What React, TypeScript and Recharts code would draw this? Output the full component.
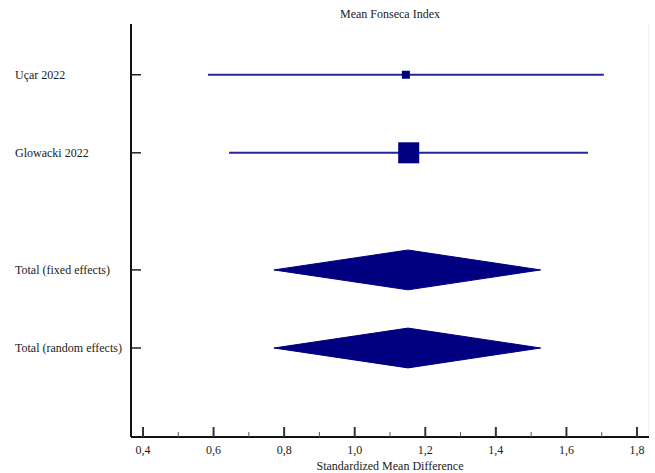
import { ComposedChart, Scatter, XAxis, YAxis, CartesianGrid, ReferenceLine } from 'recharts';

// studies
const STUDY_NAMES = ['Uçar 2022', 'Glowacki 2022'];
const STUDY_ROWS = [1, 3];
const STUDY_EST = [1.145, 1.153];
const STUDY_LO = [0.584, 0.644];
const STUDY_HI = [1.706, 1.661];
const STUDY_WEIGHT = [12.7, 87.3];

// pooled estimates
const POOLED_NAMES = ['Total (fixed effects)', 'Total (random effects)'];
const POOLED_ROWS = [6, 8];
const POOLED_EST = [1.151, 1.151];
const POOLED_LO = [0.771, 0.771];
const POOLED_HI = [1.527, 1.527];

const X_TICKS = [0.4, 0.5, 0.6, 0.7, 0.8, 0.9, 1.0, 1.1, 1.2, 1.3, 1.4, 1.5, 1.6, 1.7, 1.8];
const X_MAJOR = [0.4, 0.6, 0.8, 1.0, 1.2, 1.4, 1.6, 1.8];

const NAVY = '#000080';
const LINE = '#26269c';
const FONT = "'Liberation Serif', serif";
const FONT_SIZE = 12;
const DIAMOND_HALF = 0.51;
const X_DOMAIN = [0.366, 1.834];

const ROW_LABELS: Record<number, string> = {};
STUDY_ROWS.forEach((r, i) => (ROW_LABELS[r] = STUDY_NAMES[i]));
POOLED_ROWS.forEach((r, i) => (ROW_LABELS[r] = POOLED_NAMES[i]));

const majorSet = new Set(X_MAJOR.map(v => v.toFixed(1)));

const XTick = (props: any) => {
  const { x, y, payload } = props;
  const key = Number(payload.value).toFixed(1);
  const major = majorSet.has(key);
  return (
    <g>
      <line
        x1={x}
        x2={x}
        y1={y}
        y2={y - (major ? 10 : 5)}
        stroke={major ? '#333' : '#555'}
        strokeWidth={major ? 2 : 1}
      />
      {major && (
        <text x={x} y={y + 17} textAnchor="middle" fontFamily={FONT} fontSize={FONT_SIZE} fill="#222">
          {key.replace('.', ',')}
        </text>
      )}
    </g>
  );
};

const YTick = (props: any) => {
  const { x, y, payload } = props;
  return (
    <g>
      <line x1={x} x2={x + 10} y1={y} y2={y} stroke="#222" strokeWidth={1.5} />
      <text x={15} y={y + 4} textAnchor="start" fontFamily={FONT} fontSize={FONT_SIZE} fill="#222">
        {ROW_LABELS[payload.value]}
      </text>
    </g>
  );
};

const squareData = STUDY_NAMES.map((name, i) => ({
  name,
  x: STUDY_EST[i],
  y: STUDY_ROWS[i],
  w: STUDY_WEIGHT[i]
}));

const Square = (props: any) => {
  const { cx, cy, payload } = props;
  const s = 2.25 * Math.sqrt(payload.w);
  return <rect x={cx - s / 2} y={cy - s / 2} width={s} height={s} fill={NAVY} />;
};

const diamondData = (i: number) => [
  { x: POOLED_LO[i], y: POOLED_ROWS[i] },
  { x: POOLED_EST[i], y: POOLED_ROWS[i] - DIAMOND_HALF },
  { x: POOLED_HI[i], y: POOLED_ROWS[i] },
  { x: POOLED_EST[i], y: POOLED_ROWS[i] + DIAMOND_HALF },
  { x: POOLED_LO[i], y: POOLED_ROWS[i] }
];

export default function App() {
  return (
    <div style={{ position: 'absolute', left: 0, top: 0, width: 655, height: 473, background: '#fff' }}>
      <ComposedChart width={655} height={473} margin={{ top: 0, right: 6, bottom: 0, left: 0 }}>
        <CartesianGrid xAxisId="grid" horizontal={false} stroke="#ebebeb" strokeWidth={1} />
        <XAxis
          xAxisId="grid"
          orientation="top"
          type="number"
          domain={X_DOMAIN}
          allowDataOverflow
          ticks={X_MAJOR}
          tick={false}
          tickLine={false}
          axisLine={false}
          height={24}
          label={{ value: 'Mean Fonseca Index', position: 'center', dy: 2, fontFamily: FONT, fontSize: FONT_SIZE, fill: '#222' }}
        />
        <XAxis
          type="number"
          dataKey="x"
          domain={X_DOMAIN}
          allowDataOverflow
          ticks={X_TICKS}
          interval={0}
          tick={<XTick />}
          tickLine={false}
          tickSize={0}
          tickMargin={0}
          axisLine={{ stroke: '#111', strokeWidth: 2 }}
          height={36}
          label={{ value: 'Standardized Mean Difference', position: 'insideBottom', offset: 3, fontFamily: FONT, fontSize: FONT_SIZE, fill: '#222' }}
        />
        <YAxis
          type="number"
          dataKey="y"
          domain={[-0.3, 10.28]}
          reversed
          allowDataOverflow
          ticks={[...STUDY_ROWS, ...POOLED_ROWS]}
          interval={0}
          tick={<YTick />}
          tickLine={false}
          tickSize={0}
          tickMargin={0}
          axisLine={{ stroke: '#111', strokeWidth: 2 }}
          width={131}
        />
        {STUDY_NAMES.map((name, i) => (
          <ReferenceLine
            key={name}
            segment={[
              { x: STUDY_LO[i], y: STUDY_ROWS[i] },
              { x: STUDY_HI[i], y: STUDY_ROWS[i] }
            ]}
            stroke={LINE}
            strokeWidth={2}
          />
        ))}
        <Scatter data={squareData} shape={<Square />} isAnimationActive={false} />
        {POOLED_NAMES.map((name, i) => (
          <Scatter
            key={name}
            data={diamondData(i)}
            line={{ stroke: NAVY, fill: NAVY, strokeWidth: 1 }}
            shape={() => <g />}
            isAnimationActive={false}
          />
        ))}
      </ComposedChart>
    </div>
  );
}
